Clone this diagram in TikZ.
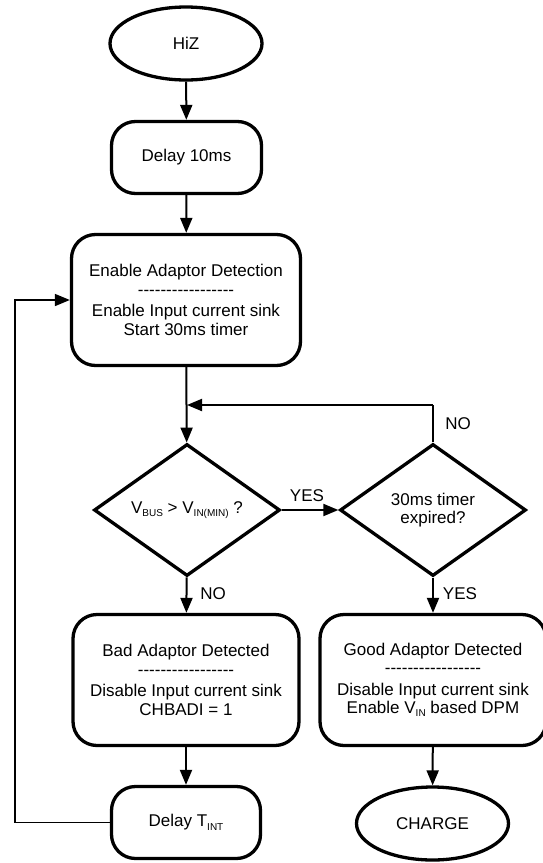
\documentclass[tikz,border=0pt]{standalone}
\usepackage{fontspec}
\setmainfont{Liberation Sans}
\usetikzlibrary{shapes.geometric,arrows.meta}
\newcommand{\subtx}[1]{\raisebox{-0.35ex}{\fontsize{10}{10}\selectfont #1}}
\newcommand{\dashrow}{-{}-{}-{}-{}-{}-{}-{}-{}-{}-{}-{}-{}-{}-{}-{}-{}-}
\begin{document}
\begin{tikzpicture}[x=1pt,y=-1pt,
  every node/.style={font=\fontsize{17}{18.5}\selectfont, inner sep=0pt, align=center},
  termbox/.style={draw, ellipse, line width=3.3pt, minimum width=152pt, minimum height=73pt},
  procbox/.style={draw, rounded corners=24pt, line width=3.3pt},
  decbox/.style={draw, diamond, shape aspect=1.4, line width=3.3pt, minimum width=186pt, minimum height=132pt},
  flow/.style={line width=2pt, -{Triangle[length=15pt,width=12pt]}},
  lbl/.style={font=\fontsize{17}{18.5}\selectfont}
]
\useasboundingbox (0,0) rectangle (542,863);
\node[termbox] (hiz) at (186,43.5) {HiZ};
\node[procbox, minimum width=150pt, minimum height=72pt] (d10) at (186.5,157.5) {Delay 10ms};
\node[procbox, minimum width=229pt, minimum height=131pt] (en) at (186,300)
  {Enable Adaptor Detection\\\dashrow\\[3pt]Enable Input current sink\\Start 30ms timer};
\node[decbox] (q1) at (187,510) {V\subtx{BUS} > V\subtx{IN(MIN)} ?};
\node[decbox] (q2) at (433,510) {30ms timer\\expired?};
\node[procbox, minimum width=226pt, minimum height=131pt] (bad) at (186,680)
  {Bad Adaptor Detected\\\dashrow\\[3pt]Disable Input current sink\\CHBADI = 1};
\node[procbox, minimum width=226pt, minimum height=131pt] (good) at (433,680)
  {Good Adaptor Detected\\\dashrow\\[3pt]Disable Input current sink\\Enable V\subtx{IN} based DPM};
\node[procbox, minimum width=149pt, minimum height=72pt] (dint) at (186,822.5) {Delay T\subtx{INT}};
\node[termbox] (chg) at (432.5,823.5) {CHARGE};

\coordinate (loopL) at (15,0);
\coordinate (fbY) at (0,405);

\draw[flow] (hiz) -- (d10);
\draw[flow] (d10) -- (en);
\draw[flow] (en) -- (q1);
\draw[flow] (q1) -- (q2);
\draw[flow] (q1) -- (bad);
\draw[flow] (q2) -- (good);
\draw[flow] (bad) -- (dint);
\draw[flow] (good) -- (chg);
\draw[line width=2pt] (q2.north) -- (q2.north |- fbY) coordinate (fbR);
\draw[flow] (fbR) -- (fbR -| q1.north);
\draw[line width=1.7pt, -{Triangle[length=15pt,width=12pt]}] (dint.west) -- (dint.west -| loopL) -- (en.west -| loopL) -- (en.west);

\node[lbl] (yes1) at (307,496) {YES};
\node[lbl] (no1) at (458,424) {NO};
\node[lbl] (no2) at (213,594) {NO};
\node[lbl] (yes2) at (460,594) {YES};
\end{tikzpicture}
\end{document}
